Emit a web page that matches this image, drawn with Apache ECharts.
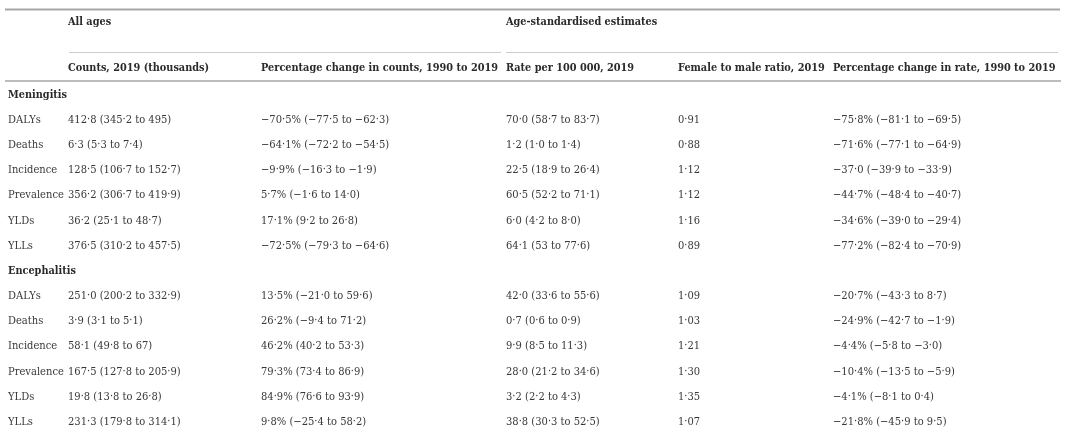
<!DOCTYPE html>
<html>
<head>
<meta charset="utf-8">
<script src="https://cdn.jsdelivr.net/npm/echarts@6/dist/echarts.min.js"></script>
<style>
  html, body { margin: 0; padding: 0; background: #ffffff; }
  #chart { width: 1080px; height: 441px; }
</style>
</head>
<body>
<div id="chart"></div>
<script>
// Table content
const diseases = ['Meningitis', 'Encephalitis'];
const measures = ['DALYs', 'Deaths', 'Incidence', 'Prevalence', 'YLDs', 'YLLs'];
const groupHeaders = ['All ages', 'Age-standardised estimates'];
const columnHeaders = [
    'Counts, 2019 (thousands)',
    'Percentage change in counts, 1990 to 2019',
    'Rate per 100 000, 2019',
    'Female to male ratio, 2019',
    'Percentage change in rate, 1990 to 2019'
];

const meningitisCounts = ['412·8 (345·2 to 495)', '6·3 (5·3 to 7·4)', '128·5 (106·7 to 152·7)', '356·2 (306·7 to 419·9)', '36·2 (25·1 to 48·7)', '376·5 (310·2 to 457·5)'];
const meningitisCountChange = ['−70·5% (−77·5 to −62·3)', '−64·1% (−72·2 to −54·5)', '−9·9% (−16·3 to −1·9)', '5·7% (−1·6 to 14·0)', '17·1% (9·2 to 26·8)', '−72·5% (−79·3 to −64·6)'];
const meningitisRate = ['70·0 (58·7 to 83·7)', '1·2 (1·0 to 1·4)', '22·5 (18·9 to 26·4)', '60·5 (52·2 to 71·1)', '6·0 (4·2 to 8·0)', '64·1 (53 to 77·6)'];
const meningitisRatio = ['0·91', '0·88', '1·12', '1·12', '1·16', '0·89'];
const meningitisRateChange = ['−75·8% (−81·1 to −69·5)', '−71·6% (−77·1 to −64·9)', '−37·0 (−39·9 to −33·9)', '−44·7% (−48·4 to −40·7)', '−34·6% (−39·0 to −29·4)', '−77·2% (−82·4 to −70·9)'];

const encephalitisCounts = ['251·0 (200·2 to 332·9)', '3·9 (3·1 to 5·1)', '58·1 (49·8 to 67)', '167·5 (127·8 to 205·9)', '19·8 (13·8 to 26·8)', '231·3 (179·8 to 314·1)'];
const encephalitisCountChange = ['13·5% (−21·0 to 59·6)', '26·2% (−9·4 to 71·2)', '46·2% (40·2 to 53·3)', '79·3% (73·4 to 86·9)', '84·9% (76·6 to 93·9)', '9·8% (−25·4 to 58·2)'];
const encephalitisRate = ['42·0 (33·6 to 55·6)', '0·7 (0·6 to 0·9)', '9·9 (8·5 to 11·3)', '28·0 (21·2 to 34·6)', '3·2 (2·2 to 4·3)', '38·8 (30·3 to 52·5)'];
const encephalitisRatio = ['1·09', '1·03', '1·21', '1·30', '1·35', '1·07'];
const encephalitisRateChange = ['−20·7% (−43·3 to 8·7)', '−24·9% (−42·7 to −1·9)', '−4·4% (−5·8 to −3·0)', '−10·4% (−13·5 to −5·9)', '−4·1% (−8·1 to 0·4)', '−21·8% (−45·9 to 9·5)'];

const diseaseColumns = [
    [meningitisCounts, meningitisCountChange, meningitisRate, meningitisRatio, meningitisRateChange],
    [encephalitisCounts, encephalitisCountChange, encephalitisRate, encephalitisRatio, encephalitisRateChange]
];

// Layout
const FONT = '"DejaVu Serif", serif';
const FONT_SIZE = 11;
// DejaVu is wider than the original face, squeeze it horizontally
const SQUEEZE_BOLD = 0.885;
const SQUEEZE_BODY = 0.905;
const HEAD_COLOR = '#2a2a2a';
const BODY_COLOR = '#383838';
const colX = [8, 68, 261, 506, 678, 833];

// Build rows: disease heading followed by its measures
const rowKeys = [];
const cellData = [];   // [x, row]
const cellText = [];
const cellBold = [];
diseases.forEach(function (disease, d) {
    rowKeys.push(String(rowKeys.length));
    cellData.push([colX[0], rowKeys.length - 1]);
    cellText.push(disease);
    cellBold.push(true);
    measures.forEach(function (m, i) {
        rowKeys.push(String(rowKeys.length));
        const r = rowKeys.length - 1;
        cellData.push([colX[0], r]);
        cellText.push(m);
        cellBold.push(false);
        diseaseColumns[d].forEach(function (col, c) {
            cellData.push([colX[c + 1], r]);
            cellText.push(col[i]);
            cellBold.push(false);
        });
    });
});

function textEl(x, y, text, bold) {
    return {
        type: 'text',
        x: x,
        y: y,
        scaleX: bold ? SQUEEZE_BOLD : SQUEEZE_BODY,
        silent: true,
        style: {
            text: text,
            font: (bold ? 'bold ' : '') + FONT_SIZE + 'px ' + FONT,
            fill: bold ? HEAD_COLOR : BODY_COLOR,
            verticalAlign: 'middle'
        }
    };
}

function rule(x1, x2, y, color, width) {
    return {
        type: 'line',
        silent: true,
        shape: { x1: x1, y1: y, x2: x2, y2: y },
        style: { stroke: color, lineWidth: width }
    };
}

const graphics = [
    rule(5, 1060, 9.5, '#a6a6a6', 2),
    rule(69, 501, 52.5, '#cccccc', 1),
    rule(506, 1058, 52.5, '#cccccc', 1),
    rule(5, 1061, 81, '#7a7a7a', 1.2),
    textEl(colX[1], 22, groupHeaders[0], true),
    textEl(colX[3], 22, groupHeaders[1], true)
];
columnHeaders.forEach(function (h, i) {
    graphics.push(textEl(colX[i + 1], 68.5, h, true));
});

const chart = echarts.init(document.getElementById('chart'), null, { renderer: 'canvas' });

chart.setOption({
    backgroundColor: '#ffffff',
    animation: false,
    grid: { left: 0, right: 0, top: 82.4, bottom: 6.4 },
    xAxis: { type: 'value', min: 0, max: 1080, show: false },
    yAxis: { type: 'category', data: rowKeys, inverse: true, show: false },
    graphic: graphics,
    series: [
        {
            name: 'cells',
            type: 'custom',
            silent: true,
            renderItem: function (params, api) {
                const p = api.coord([api.value(0), api.value(1)]);
                const i = params.dataIndex;
                return textEl(p[0], p[1], cellText[i], cellBold[i]);
            },
            data: cellData
        }
    ]
});
</script>
</body>
</html>
